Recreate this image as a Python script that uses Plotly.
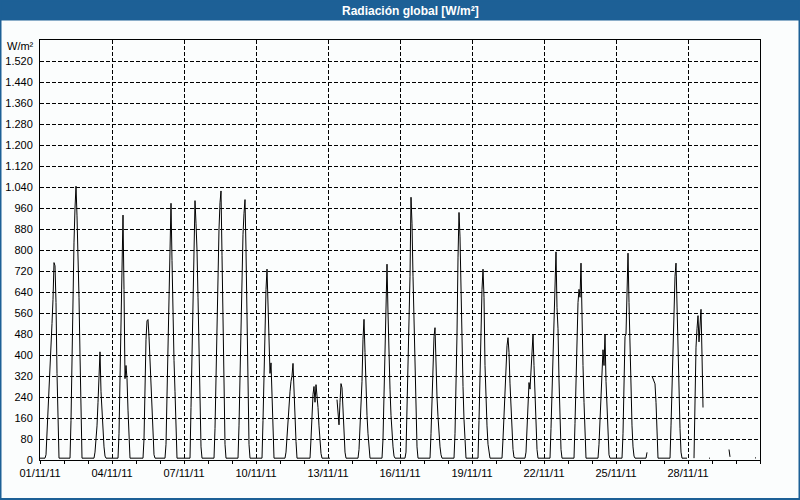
import pandas as pd
import plotly.graph_objects as go

N = None

# Hourly global radiation (W/m²), hours 0..23 of each day of November 2011
nov01 = [7, 7, 7, 7, 7, 7, 20, 100, 155, 230, 320, 430, 520, 612, 752, 740, 600, 330, 100, 7, 7, 7, 7, 7]
nov02 = [7, 7, 7, 7, 7, 7, 7, 150, 400, 640, 830, 960, 1043, 930, 800, 620, 400, 140, 7, 7, 7, 7, 7, 7]
nov03 = [7, 7, 7, 7, 7, 7, 7, 30, 70, 130, 220, 300, 412, 260, 170, 100, 50, 15, 7, 7, 7, 7, 7, 7]
nov04 = [7, 7, 7, 7, 7, 7, 7, 100, 330, 600, 820, 933, 650, 310, 360, 310, 190, 70, 7, 7, 7, 7, 7, 7]
nov05 = [7, 7, 7, 7, 7, 7, 7, 7, 80, 300, 460, 530, 535, 470, 380, 280, 170, 80, 20, 7, 7, 7, 7, 7]
nov06 = [7, 7, 7, 7, 7, 7, 60, 250, 396, 560, 760, 978, 760, 524, 380, 260, 150, 7, 7, 7, 7, 7, 7, 7]
nov07 = [7, 7, 7, 7, 7, 7, 7, 200, 430, 650, 850, 988, 900, 800, 620, 420, 220, 50, 7, 7, 7, 7, 7, 7]
nov08 = [7, 7, 7, 7, 7, 7, 7, 120, 330, 560, 750, 880, 980, 1025, 780, 520, 270, 60, 7, 7, 7, 7, 7, 7]
nov09 = [7, 7, 7, 7, 7, 7, 7, 130, 340, 560, 740, 860, 940, 992, 800, 540, 280, 60, 7, 7, 7, 7, 7, 7]
nov10 = [7, 7, 7, 7, 7, 7, 7, 150, 330, 500, 650, 727, 560, 400, 330, 370, 230, 110, 7, 7, 7, 7, 7, 7]
nov11 = [7, 7, 7, 7, 7, 7, 30, 100, 154, 200, 260, 300, 320, 368, 250, 150, 70, 7, 7, 7, 7, 7, 7, 7]
nov12 = [7, 7, 7, 7, 7, 7, 7, 80, 170, 250, 280, 220, 287, 250, 200, 130, 70, 25, 7, 7, 7, 7, 7, 7]
nov13 = [7, 7, 7, N, N, N, N, N, N, 230, 180, 134, 220, 291, 275, 180, 90, 30, 7, 7, 7, 7, 7, 7]
nov14 = [7, 7, 7, 7, 7, 7, 7, 40, 110, 190, 300, 460, 536, 410, 260, 170, 100, 30, 7, 7, 7, 7, 7, 7]
nov15 = [7, 7, 7, 7, 7, 7, 7, 80, 243, 460, 612, 746, 560, 380, 270, 170, 100, 50, 15, 7, 7, 7, 7, 7]
nov16 = [7, 7, 7, 7, 7, 7, 30, 180, 330, 500, 700, 1001, 900, 700, 520, 320, 150, 50, 7, 7, 7, 7, 7, 7]
nov17 = [7, 7, 7, 7, 7, 7, 7, 100, 243, 410, 470, 504, 350, 240, 165, 100, 50, 20, 7, 7, 7, 7, 7, 7]
nov18 = [7, 7, 7, 7, 7, 7, 7, 100, 250, 480, 770, 943, 850, 620, 450, 280, 154, 60, 7, 7, 7, 7, 7, 7]
nov19 = [7, 7, 7, 7, 7, 7, 7, 150, 330, 536, 650, 727, 620, 360, 220, 130, 60, 20, 7, 7, 7, 7, 7, 7]
nov20 = [7, 7, 7, 7, 7, 7, 7, 80, 180, 290, 380, 435, 466, 410, 290, 190, 100, 40, 10, 7, 7, 7, 7, 7]
nov21 = [7, 7, 7, 7, 7, 7, 30, 130, 220, 295, 270, 360, 435, 478, 360, 220, 110, 40, 7, 7, 7, 7, 7, 7]
nov22 = [7, 7, 7, 7, 7, 7, 7, 120, 260, 420, 560, 650, 793, 580, 500, 305, 150, 40, 7, 7, 7, 7, 7, 7]
nov23 = [7, 7, 7, 7, 7, 7, 7, 140, 300, 480, 600, 650, 620, 750, 500, 360, 220, 90, 7, 7, 7, 7, 7, 7]
nov24 = [7, 7, 7, 7, 7, 7, 7, 60, 150, 250, 330, 420, 360, 478, 300, 180, 90, 20, 7, 7, 7, 7, 7, 7]
nov25 = [7, 7, 7, 7, 7, 7, 7, 100, 257, 470, 480, 640, 788, 600, 420, 270, 130, 50, 15, 7, 7, 7, 7, 7]
nov26 = [7, 7, 7, 7, 7, 7, 7, 29, N, N, N, N, 320, 310, 300, 290, 220, 100, 7, 7, 7, 7, 7, 7]
nov27 = [7, 7, 7, 7, 7, 7, 7, 130, 280, 450, 620, 700, 750, 560, 435, 260, 120, 30, 7, 7, 7, 7, 7, 7]
nov28 = [N, N, N, N, N, N, 7, 319, 430, 500, 550, 450, 500, 574, 400, 200, N, N, N, N, N, 7, 7, N]
nov29 = [N, N, N, N, N, N, N, N, N, N, N, N, N, N, N, N, N, 40, 12, N, N, N, N, N]
nov30 = [N, N, N, N, N, N, N, N, N, N, N, N, N, N, N, N, N, N, N, 8, 8, N, N, N]

radiation = (nov01 + nov02 + nov03 + nov04 + nov05 + nov06 + nov07 + nov08 + nov09 + nov10
             + nov11 + nov12 + nov13 + nov14 + nov15 + nov16 + nov17 + nov18 + nov19 + nov20
             + nov21 + nov22 + nov23 + nov24 + nov25 + nov26 + nov27 + nov28 + nov29 + nov30)
times = pd.date_range("2011-11-01 00:00", periods=len(radiation), freq="h")

x_tick_dates = ["2011-11-01", "2011-11-04", "2011-11-07", "2011-11-10", "2011-11-13",
                "2011-11-16", "2011-11-19", "2011-11-22", "2011-11-25", "2011-11-28"]
x_tick_labels = ["01/11/11", "04/11/11", "07/11/11", "10/11/11", "13/11/11",
                 "16/11/11", "19/11/11", "22/11/11", "25/11/11", "28/11/11"]
y_tick_values = [0, 80, 160, 240, 320, 400, 480, 560, 640, 720, 800, 880, 960,
                 1040, 1120, 1200, 1280, 1360, 1440, 1520, 1600]
y_tick_labels = ["0", "80", "160", "240", "320", "400", "480", "560", "640", "720", "800",
                 "880", "960", "1.040", "1.120", "1.200", "1.280", "1.360", "1.440", "1.520", ""]

title_text = "<b>Radiación global [W/m²]</b>"
unit_text = "W/m²"

BLUE = "#1d6096"
BG = "#fbfdfd"
FONT = "Liberation Sans, Arial, sans-serif"

fig = go.Figure()
fig.add_trace(go.Scatter(x=times, y=radiation, mode="lines",
                         line=dict(color="black", width=1), connectgaps=False,
                         hoverinfo="skip", showlegend=False))

W, H = 800, 500
ml, mr, mt, mb = 40, 40, 40, 40
pw, ph = W - ml - mr, H - mt - mb


def px_x(x):
    return (x - ml) / pw


def px_y(y):
    return (H - mb - y) / ph


fig.update_layout(
    width=W, height=H, autosize=False,
    margin=dict(l=ml, r=mr, t=mt, b=mb, pad=0, autoexpand=False),
    paper_bgcolor=BG, plot_bgcolor=BG,
    font=dict(family=FONT, size=11, color="black"),
    showlegend=False,
    xaxis=dict(
        type="date", range=["2011-11-01 00:00:00", "2011-12-01 00:00:00"], autorange=False,
        tickvals=x_tick_dates, ticktext=x_tick_labels, automargin=False,
        ticks="outside", ticklen=3, tickcolor="black", tickwidth=1,
        showgrid=True, gridcolor="black", gridwidth=1, griddash="4px,2px",
        showline=True, linecolor="black", linewidth=1, mirror=True,
        zeroline=False, fixedrange=True,
        minor=dict(ticks="outside", ticklen=3, tickcolor="black", tickwidth=1,
                   dtick=86400000, tick0="2011-11-01", showgrid=False),
        tickfont=dict(family=FONT, size=11, color="black"),
    ),
    yaxis=dict(
        range=[0, 1600], autorange=False, tickvals=y_tick_values, ticktext=y_tick_labels,
        ticks="", ticklabelstandoff=4, automargin=False,
        showgrid=True, gridcolor="black", gridwidth=1, griddash="4px,2px",
        showline=True, linecolor="black", linewidth=1, mirror=True,
        zeroline=False, fixedrange=True,
        tickfont=dict(family=FONT, size=11, color="black"),
    ),
    shapes=[
        dict(type="rect", xref="paper", yref="paper",
             x0=px_x(0), x1=px_x(W), y0=px_y(20.5), y1=px_y(0),
             fillcolor=BLUE, line=dict(width=0), layer="above"),
        dict(type="rect", xref="paper", yref="paper",
             x0=px_x(0.5), x1=px_x(W - 0.5), y0=px_y(H - 1), y1=px_y(0.5),
             fillcolor="rgba(0,0,0,0)", line=dict(color=BLUE, width=2), layer="above"),
    ],
    annotations=[
        dict(text=title_text, xref="paper", yref="paper", x=px_x(411), y=px_y(10.5),
             xanchor="center", yanchor="middle", showarrow=False,
             font=dict(family=FONT, size=12, color="white")),
        dict(text=unit_text, xref="paper", yref="paper", x=px_x(36), y=px_y(46),
             xanchor="right", yanchor="middle", showarrow=False,
             font=dict(family=FONT, size=11, color="black")),
    ],
)

fig.write_html("out.html")
